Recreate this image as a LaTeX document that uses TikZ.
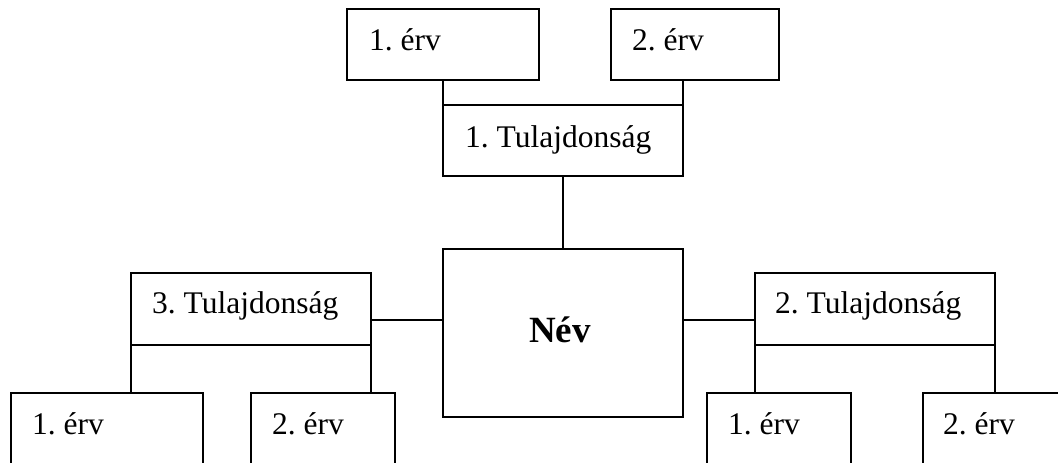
\documentclass[tikz,border=0pt]{standalone}
\usepackage{fontspec}
\setmainfont{Liberation Serif}
\frenchspacing
\begin{document}
\begin{tikzpicture}[x=1pt,y=-1pt,
  box/.style={draw,line width=2pt,rectangle,anchor=north west,inner sep=0pt,outer sep=0pt},
  lbl/.style={anchor=base west,inner sep=0pt,font=\fontsize{31.5}{37}\selectfont},
  conn/.style={line width=2pt}]
\useasboundingbox (0,0) rectangle (1058,463);
\clip (0,0) rectangle (1058,463);
% boxes
\node[box,minimum width=192pt,minimum height=71pt] (A1) at (347,9) {};
\node[box,minimum width=168pt,minimum height=71pt] (A2) at (611,9) {};
\node[box,minimum width=240pt,minimum height=71pt] (T1) at (443,105) {};
\node[box,minimum width=240pt,minimum height=168pt] (N) at (443,249) {};
\node[box,minimum width=240pt,minimum height=72pt] (T3) at (131,273) {};
\node[box,minimum width=240pt,minimum height=72pt] (T2) at (755,273) {};
\node[box,minimum width=192pt,minimum height=100pt] (B1) at (11,393) {};
\node[box,minimum width=144pt,minimum height=100pt] (B2) at (251,393) {};
\node[box,minimum width=144pt,minimum height=100pt] (C1) at (707,393) {};
\node[box,minimum width=160pt,minimum height=100pt] (C2) at (923,393) {};
% texts
\node[lbl] (tA1) at ([xshift=22pt,yshift=-41pt]A1.north west) {1. érv};
\node[lbl] (tA2) at ([xshift=21pt,yshift=-41pt]A2.north west) {2. érv};
\node[lbl] (tT1) at ([xshift=22pt,yshift=-42pt]T1.north west) {1. Tulajdonság};
\node[lbl] (tT3) at ([xshift=21pt,yshift=-40pt]T3.north west) {3. Tulajdonság};
\node[lbl] (tT2) at ([xshift=20pt,yshift=-40pt]T2.north west) {2. Tulajdonság};
\node[lbl] (tB1) at ([xshift=21pt,yshift=-41pt]B1.north west) {1. érv};
\node[lbl] (tB2) at ([xshift=21pt,yshift=-41pt]B2.north west) {2. érv};
\node[lbl] (tC1) at ([xshift=21pt,yshift=-41pt]C1.north west) {1. érv};
\node[lbl] (tC2) at ([xshift=20pt,yshift=-41pt]C2.north west) {2. érv};
\node[anchor=base,inner sep=0pt,font=\fontsize{37}{44}\bfseries] (tN) at (560,342) {Név};
% connectors
\draw[conn] (T1.north west) -- (T1.north west |- A1.south);
\draw[conn] (T1.north east) -- (T1.north east |- A2.south);
\draw[conn] (T1.south) -- (N.north);
\draw[conn] (T3.east |- 0,320) -- (N.west |- 0,320);
\draw[conn] (N.east |- 0,320) -- (T2.west |- 0,320);
\draw[conn] (T3.south west) -- (T3.south west |- B1.north);
\draw[conn] (T3.south east) -- (T3.south east |- B2.north);
\draw[conn] (T2.south west) -- (T2.south west |- C1.north);
\draw[conn] (T2.south east) -- (T2.south east |- C2.north);
\end{tikzpicture}
\end{document}
